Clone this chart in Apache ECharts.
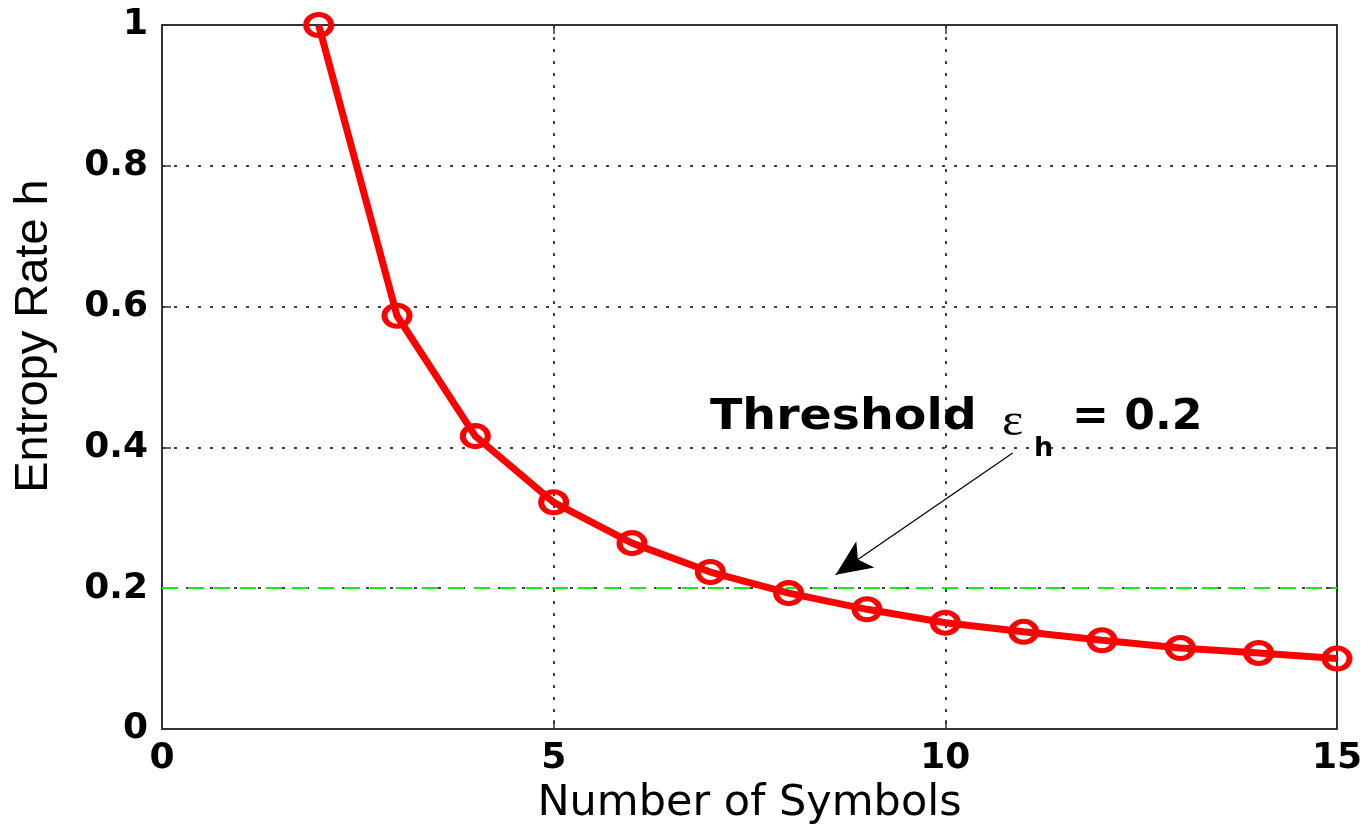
<!DOCTYPE html>
<html>
<head>
<meta charset="utf-8">
<script src="https://cdn.jsdelivr.net/npm/echarts@6/dist/echarts.min.js"></script>
<style>
    html, body { margin: 0; padding: 0; background: #fff; }
    #chart { width: 1371px; height: 824px; }
</style>
</head>
<body>
<div id="chart"></div>
<script>
// data
var symbols = [2, 3, 4, 5, 6, 7, 8, 9, 10, 11, 12, 13, 14, 15];
var entropyRate = [1.0, 0.587, 0.416, 0.322, 0.264, 0.223, 0.193, 0.170, 0.151, 0.138, 0.126, 0.115, 0.108, 0.100];
var xRange = [0, 15];
var yRange = [0, 1];
var threshold = 0.2;
// annotation arrow (data coords)
var arrowFrom = [10.86, 0.392];
var arrowTo = [8.6, 0.219];

var myChart = echarts.init(document.getElementById('chart'));

var tickFont = 'DejaVu Sans';
var gridLine = { show: true, lineStyle: { color: '#000', width: 1.5, type: [3, 9] } };

var option = {
    backgroundColor: '#fff',
    animation: false,
    grid: { left: 162, right: 34, top: 25, bottom: 95, containLabel: false, outerBoundsMode: 'none' },
    xAxis: [
        {
            type: 'value', min: xRange[0], max: xRange[1], interval: 5,
            name: 'Number of Symbols', nameLocation: 'middle', nameGap: 47,
            nameTextStyle: { fontFamily: tickFont, fontSize: 43, color: '#000' },
            axisLine: { show: true, onZero: false, lineStyle: { color: '#333', width: 2 } },
            axisTick: { show: true, inside: true, length: 9, lineStyle: { color: '#333', width: 1.5 } },
            axisLabel: { margin: 12, fontFamily: tickFont, fontWeight: 'bold', fontSize: 36, color: '#000' },
            splitLine: gridLine
        },
        {
            type: 'value', position: 'top', min: xRange[0], max: xRange[1], interval: 5,
            axisLine: { show: true, onZero: false, lineStyle: { color: '#333', width: 2 } },
            axisTick: { show: true, inside: true, length: 9, lineStyle: { color: '#333', width: 1.5 } },
            axisLabel: { show: false },
            splitLine: { show: false }
        }
    ],
    yAxis: [
        {
            type: 'value', min: yRange[0], max: yRange[1], interval: 0.2,
            name: 'Entropy Rate h', nameLocation: 'middle', nameGap: 104,
            nameTextStyle: { fontFamily: 'Liberation Sans', fontSize: 47, color: '#000', padding: [0, 0, 0, 82] },
            axisLine: { show: true, onZero: false, lineStyle: { color: '#333', width: 2 } },
            axisTick: { show: true, inside: true, length: 9, lineStyle: { color: '#333', width: 1.5 } },
            axisLabel: { margin: 14, fontFamily: tickFont, fontWeight: 'bold', fontSize: 36, color: '#000' },
            splitLine: gridLine
        },
        {
            type: 'value', position: 'right', min: yRange[0], max: yRange[1], interval: 0.2,
            axisLine: { show: true, onZero: false, lineStyle: { color: '#333', width: 2 } },
            axisTick: { show: true, inside: true, length: 9, lineStyle: { color: '#333', width: 1.5 } },
            axisLabel: { show: false },
            splitLine: { show: false }
        }
    ],
    series: [
        {
            name: 'threshold',
            type: 'line',
            data: [],
            markLine: {
                silent: true,
                symbol: ['none', 'none'],
                label: { show: false },
                lineStyle: { color: '#11ee11', width: 2, type: [16, 10] },
                data: [{ yAxis: threshold }]
            }
        },
        {
            name: 'entropy',
            type: 'line',
            clip: false,
            z: 5,
            data: symbols.map(function (s, i) { return [s, entropyRate[i]]; }),
            lineStyle: { color: '#ff0000', width: 7 },
            symbol: 'circle',
            symbolSize: [25, 21],
            itemStyle: { color: 'rgba(255,255,255,0)', borderColor: '#ff0000', borderWidth: 5.5 }
        },
        {
            name: 'arrow',
            type: 'line',
            data: [],
            markLine: {
                silent: true,
                symbol: ['none', 'arrow'],
                symbolSize: [24, 36],
                label: { show: false },
                lineStyle: { color: '#000', width: 1.3, type: 'solid' },
                data: [[{ coord: arrowFrom }, { coord: arrowTo }]]
            }
        }
    ],
    graphic: [
        {
            type: 'text', x: 710, y: 418, scaleX: 1.13, z: 10,
            style: { text: 'Threshold', fontFamily: tickFont, fontWeight: 'bold', fontSize: 42, fill: '#000', verticalAlign: 'middle' }
        },
        {
            type: 'text', x: 1002, y: 423, scaleX: 1.1, z: 10,
            style: { text: 'ε', fontFamily: 'Liberation Serif', fontSize: 46, fill: '#000', verticalAlign: 'middle' }
        },
        {
            type: 'text', x: 1034, y: 449, z: 10,
            style: { text: 'h', fontFamily: tickFont, fontWeight: 'bold', fontSize: 27, fill: '#000', verticalAlign: 'middle' }
        },
        {
            type: 'text', x: 1072, y: 418, scaleX: 1.05, z: 10,
            style: { text: '= 0.2', fontFamily: tickFont, fontWeight: 'bold', fontSize: 42, fill: '#000', verticalAlign: 'middle' }
        }
    ]
};

myChart.setOption(option);
</script>
</body>
</html>
